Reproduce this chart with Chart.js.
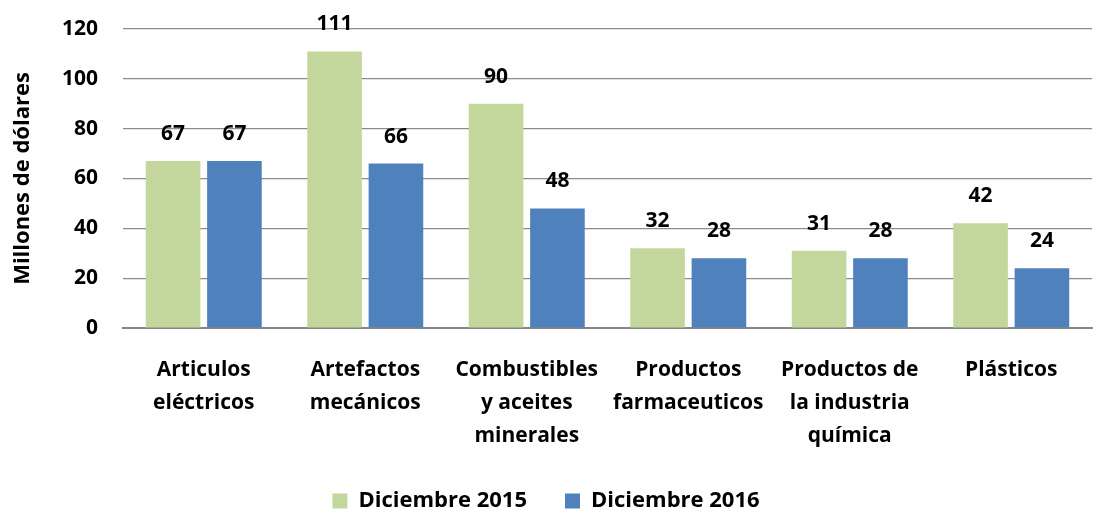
<!DOCTYPE html>
<html lang="es">
<head>
    <meta charset="UTF-8">
    <title>Millones de dólares</title>
    <script src="https://cdn.jsdelivr.net/npm/chart.js"></script>
    <style>
        body { margin: 0; background: #fff; }
        #wrap { width: 1099px; height: 512px; }
    </style>
</head>
<body>
    <div id="wrap"><canvas id="chart"></canvas></div>
    <script>
        const categories = [
            ['Articulos', 'eléctricos'],
            ['Artefactos', 'mecánicos'],
            ['Combustibles', 'y aceites', 'minerales'],
            ['Productos', 'farmaceuticos'],
            ['Productos de', 'la industria', 'química'],
            ['Plásticos']
        ];
        const dic2015 = [67, 111, 90, 32, 31, 42];
        const dic2016 = [67, 66, 48, 28, 28, 24];
        const yTicks = [0, 20, 40, 60, 80, 100, 120];

        const FONT = "'Open Sans', 'Liberation Sans', sans-serif";

        // etiquetas encima de las barras
        const barLabels = {
            id: 'barLabels',
            afterDatasetsDraw(chart) {
                const ctx = chart.ctx;
                ctx.save();
                ctx.font = 'bold 21px ' + FONT;
                ctx.fillStyle = '#000';
                ctx.textAlign = 'center';
                ctx.textBaseline = 'middle';
                chart.data.datasets.forEach((ds, i) => {
                    chart.getDatasetMeta(i).data.forEach((bar, j) => {
                        ctx.fillText(ds.data[j], bar.x, bar.y - 27);
                    });
                });
                ctx.restore();
            }
        };

        new Chart(document.getElementById('chart'), {
            type: 'bar',
            data: {
                labels: categories,
                datasets: [
                    { label: 'Diciembre 2015', data: dic2015, backgroundColor: '#C3D69B' },
                    { label: 'Diciembre 2016', data: dic2016, backgroundColor: '#4F81BD' }
                ]
            },
            options: {
                responsive: true,
                maintainAspectRatio: false,
                animation: false,
                categoryPercentage: 0.76,
                barPercentage: 0.89,
                layout: { padding: { top: 29, right: 7, left: 0, bottom: -10 } },
                plugins: {
                    tooltip: { enabled: false },
                    legend: {
                        position: 'bottom',
                        labels: {
                            font: { family: FONT, size: 22, weight: 'bold' },
                            color: '#000',
                            boxWidth: 15,
                            boxHeight: 15,
                            padding: 38
                        }
                    }
                },
                scales: {
                    x: {
                        grid: { display: false, drawTicks: false },
                        border: { color: '#868686', width: 2 },
                        ticks: {
                            color: '#000',
                            font: { family: FONT, size: 21, weight: 'bold', lineHeight: 1.57 },
                            padding: 26,
                            maxRotation: 0,
                            autoSkip: false
                        },
                        afterFit(scale) { scale.height = 124; }
                    },
                    y: {
                        min: 0,
                        max: 120,
                        afterBuildTicks(scale) { scale.ticks = yTicks.map(v => ({ value: v })); },
                        grid: { color: '#8c8c8c', lineWidth: 1.2, tickLength: 22, tickColor: 'rgba(0,0,0,0)' },
                        border: { display: false },
                        ticks: {
                            color: '#000',
                            font: { family: FONT, size: 21, weight: 'bold' },
                            padding: 3
                        },
                        title: {
                            display: true,
                            text: 'Millones de dólares',
                            color: '#000',
                            font: { family: FONT, size: 22, weight: 'bold' },
                            padding: { top: 10, bottom: 10 }
                        },
                        afterFit(scale) { scale.width = 123; }
                    }
                }
            },
            plugins: [barLabels]
        });
    </script>
</body>
</html>
